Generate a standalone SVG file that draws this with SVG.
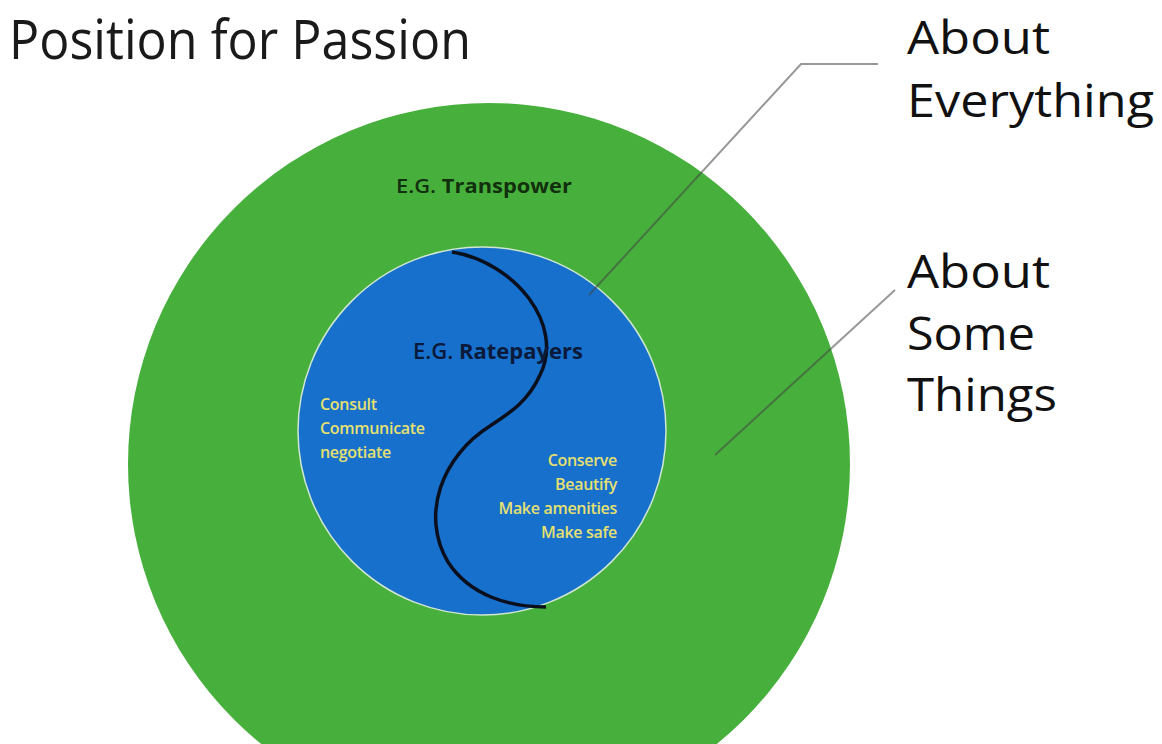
<svg xmlns="http://www.w3.org/2000/svg" width="1162" height="744" viewBox="0 0 1162 744">
<style>
.title{font-family:"Open Sans","Liberation Sans",sans-serif;font-size:54px;fill:#1a1a1a}
.big{font-family:"Open Sans","Liberation Sans",sans-serif;font-size:45px;fill:#111}
.lbl{font-family:"Open Sans","Liberation Sans",sans-serif;font-size:16px;fill:#e6e070;font-weight:600;letter-spacing:-0.3px}
.eg{font-family:"Open Sans","Liberation Sans",sans-serif;font-weight:600}
.leader{fill:none;stroke:#444;stroke-opacity:0.55;stroke-width:2}
</style>
<rect width="1162" height="744" fill="#fff"/>
<g id="title"><text class="title" x="9" y="59" textLength="462" lengthAdjust="spacingAndGlyphs">Position for Passion</text></g>
<g id="outer">
<circle cx="489" cy="464" r="361" fill="#47b03c"/>
<text class="eg" x="484" y="193" text-anchor="middle" font-size="19" fill="#12300e" textLength="176" lengthAdjust="spacingAndGlyphs">E.G. <tspan font-weight="700">Transpower</tspan></text>
</g>
<g id="inner">
<circle cx="482" cy="431" r="184" fill="#1670cc" stroke="#cfe6d0" stroke-width="1.5"/>
<path d="M452,252 C515,262 565,325 540,375 C528,402 508,414 490,426 C442,456 420,515 448,562 C470,596 510,607 546,607" fill="none" stroke="#0a0f1e" stroke-width="3.5"/>
<text class="eg" x="498" y="359" text-anchor="middle" font-size="21" fill="#0b1a3a" textLength="170" lengthAdjust="spacingAndGlyphs">E.G. <tspan font-weight="700">Ratepayers</tspan></text>
<text class="lbl" x="320" y="410">Consult</text>
<text class="lbl" x="320" y="434">Communicate</text>
<text class="lbl" x="320" y="458">negotiate</text>
<text class="lbl" x="617" y="466" text-anchor="end">Conserve</text>
<text class="lbl" x="617" y="490" text-anchor="end">Beautify</text>
<text class="lbl" x="617" y="514" text-anchor="end">Make amenities</text>
<text class="lbl" x="617" y="538" text-anchor="end">Make safe</text>
</g>
<g id="connectors">
<path class="leader" d="M878,64 L801,64 L589,295"/>
<path class="leader" d="M895,290 L715,455"/>
</g>
<g id="label-everything">
<text class="big" x="907" y="54" textLength="143" lengthAdjust="spacingAndGlyphs">About</text>
<text class="big" x="907" y="117" textLength="247" lengthAdjust="spacingAndGlyphs">Everything</text>
</g>
<g id="label-some">
<text class="big" x="907" y="288" textLength="143" lengthAdjust="spacingAndGlyphs">About</text>
<text class="big" x="907" y="350" textLength="128" lengthAdjust="spacingAndGlyphs">Some</text>
<text class="big" x="907" y="411" textLength="150" lengthAdjust="spacingAndGlyphs">Things</text>
</g>
</svg>
